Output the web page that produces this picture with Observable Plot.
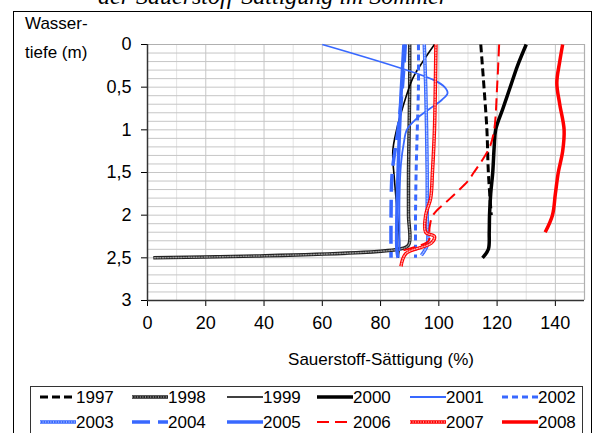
<!DOCTYPE html>
<html>
<head>
<meta charset="utf-8">
<script src="https://cdn.jsdelivr.net/npm/d3@7"></script>
<script src="https://cdn.jsdelivr.net/npm/@observablehq/plot@0.6"></script>
<style>
  body { margin:0; background:#fff; }
  #wrap { position:relative; width:606px; height:433px; overflow:hidden; background:#fff; font-family:"Liberation Sans", Arial, sans-serif; }
  #title { position:absolute; left:0; width:546px; top:-17px; text-align:center; font-family:"Liberation Serif", "Times New Roman", serif; font-style:italic; font-size:24px; white-space:nowrap; }
  #frame { position:absolute; left:13px; top:11px; width:579px; height:440px; border:1.5px solid #000; box-sizing:border-box; }
  #plot, #overlay { position:absolute; left:0; top:0; }
</style>
</head>
<body>
<div id="wrap">
  <div id="title">der Sauerstoff-Sättigung im Sommer</div>
  <div id="frame"></div>
  <div id="plot"></div>
  <svg id="overlay" width="606" height="433"></svg>
</div>
<script>
// ---- data (depth in m, saturation in %) ----
const years = ["1997","1998","1999","2000","2001","2002","2003","2004","2005","2006","2007","2008"];
const xTicks = [0,20,40,60,80,100,120,140];
const yTicks = [0,0.5,1,1.5,2,2.5,3];

const d1997 = [0,0.5,1,1.5,2];
const v1997 = [114.4,115.5,116.5,117,118];
const d1998 = [0,0.5,1,1.5,2,2.35,2.4,2.5];
const v1998 = [90,90,89.8,89.6,89.6,89.6,86,2];
const d1999 = [0,0.2,0.4,0.75,1.0,1.25,1.6,2.0,2.35,2.5];
const v1999 = [98.5,94.5,91,87.5,85.5,84.2,84.8,85.8,86.5,86];
const d2000 = [0,0.25,0.5,0.75,1.0,1.2,1.5,1.75,2.0,2.2,2.4,2.5];
const v2000 = [130,127,124.5,122,119.5,119,118.5,117.8,117.4,117.3,117,115];
const d2001 = [0,0.42,0.5,0.57,0.65,0.75,0.88,1.0,1.15,1.4,1.8,2.2,2.42];
const v2001 = [60,98.5,102,103,101,97,92,89,88,87,86.5,86.5,86.5];
const d2002 = [0,0.5,1,1.5,2,2.4,2.5];
const v2002 = [93,93,92.6,92.2,92,92,92];
const d2003 = [0,0.5,1,1.5,2,2.35,2.47];
const v2003 = [95,95.5,95.8,96,96,96,94];
const d2004 = [0,0.5,1,1.5,2,2.5];
const v2004 = [88.5,87.5,86,84,83.6,83.6];
const d2005 = [0,0.3,0.6,1,1.5,2,2.4,2.5];
const v2005 = [88,87.5,87,86.5,86,85.6,85.6,86];
const d2006 = [0,0.5,1.0,1.2,1.35,1.5,1.6,1.8,2.0,2.15,2.3,2.38,2.42];
const v2006 = [120.7,120,119,117.5,115,112,110,104,98,96.8,96.5,91,87];
const d2007 = [0,0.5,1.0,1.5,1.8,2.0,2.2,2.25,2.33,2.45,2.6];
const v2007 = [99,98.8,98.5,97.8,97.2,95.5,95.5,98.5,97.3,88.7,87];
const d2008 = [0,0.2,0.45,0.7,1.0,1.25,1.5,1.75,2.0,2.2];
const v2008 = [142.5,141.5,140.5,141.5,143,142.5,141,140,139,136.5];

const depths = [d1997,d1998,d1999,d2000,d2001,d2002,d2003,d2004,d2005,d2006,d2007,d2008];
const sats   = [v1997,v1998,v1999,v2000,v2001,v2002,v2003,v2004,v2005,v2006,v2007,v2008];

// ---- styles per series ----
const BLUE = "#3868FF", RED = "#FF0000", BLACK = "#000";
const styles = {
  "1997": {stroke:BLACK, w:3,   dash:"8,4"},
  "1998": {stroke:"#222", w:3.5, tex:"#9a9a9a"},
  "1999": {stroke:BLACK, w:1.6},
  "2000": {stroke:BLACK, w:3.5},
  "2001": {stroke:BLUE,  w:1.8},
  "2002": {stroke:BLUE,  w:3,   dash:"6,4"},
  "2003": {stroke:BLUE,  w:3.5, tex:"#a8bfff"},
  "2004": {stroke:BLUE,  w:3.5, dash:"18,8"},
  "2005": {stroke:BLUE,  w:3.5},
  "2006": {stroke:RED,   w:2,   dash:"12,6"},
  "2007": {stroke:RED,   w:3.5, tex:"#ffaaaa"},
  "2008": {stroke:RED,   w:3.5}
};

const rows = years.map((y,i) => depths[i].map((d,j) => ({year:y, depth:d, sat:sats[i][j]})));

const lineMarks = [];
years.forEach((y,i) => {
  const s = styles[y];
  lineMarks.push(Plot.line(rows[i], {x:"sat", y:"depth", curve:"catmull-rom", stroke:s.stroke, strokeWidth:s.w, strokeDasharray:s.dash, strokeLinecap:"butt"}));
  if (s.tex) lineMarks.push(Plot.line(rows[i], {x:"sat", y:"depth", curve:"catmull-rom", stroke:s.tex, strokeWidth:1.4, strokeDasharray:"1,1.6"}));
});

const minorX = d3.range(10,150,20);
const majorX = d3.range(20,150,20);
const gridY = d3.range(1,30).map(k => k/10);

const chart = Plot.plot({
  width:606, height:433,
  marginTop:44, marginLeft:147, marginRight:22, marginBottom:133,
  style:{fontFamily:'"Liberation Sans", Arial, sans-serif', fontSize:"18px", background:"transparent", color:"#000", overflow:"visible"},
  x:{domain:[0,150], ticks:xTicks, label:null, tickSize:6, tickPadding:10},
  y:{domain:[0,3], reverse:true, ticks:yTicks, tickFormat:d => String(d).replace(".", ","), label:null, tickSize:6, tickPadding:10},
  marks:[
    Plot.ruleX(minorX, {stroke:"#e3e3e3", strokeWidth:1}),
    Plot.ruleX(majorX, {stroke:"#c6c6c6", strokeWidth:1}),
    Plot.ruleY(gridY, {stroke:"#c6c6c6", strokeWidth:1}),
    Plot.ruleY([0], {stroke:"#b0b0b0", strokeWidth:1.2}),
    Plot.ruleX([150], {stroke:"#b0b0b0", strokeWidth:1.2}),
    ...lineMarks,
    Plot.ruleX([0], {stroke:"#333", strokeWidth:1.5}),
    Plot.ruleY([3], {stroke:"#333", strokeWidth:1.5})
  ]
});
document.getElementById("plot").appendChild(chart);

// ---- overlay: axis titles + legend ----
const svg = d3.select("#overlay");
const font = '"Liberation Sans", Arial, sans-serif';
svg.append("text").attr("x",25).attr("y",29).attr("font-family",font).attr("font-size",17).text("Wasser-");
svg.append("text").attr("x",25).attr("y",58).attr("font-family",font).attr("font-size",17).text("tiefe (m)");
svg.append("text").attr("x",381).attr("y",365).attr("text-anchor","middle").attr("font-family",font).attr("font-size",17).text("Sauerstoff-Sättigung (%)");

svg.append("rect").attr("x",30.5).attr("y",386.5).attr("width",552).attr("height",60).attr("fill","none").attr("stroke","#333").attr("stroke-width",1);

const colX = [40,132,227,317,410,502];
const rowY = [397,422];
years.forEach((y,i) => {
  const s = styles[y];
  const x0 = colX[i % 6], yy = rowY[Math.floor(i / 6)];
  const g = svg.append("g");
  g.append("line").attr("x1",x0).attr("x2",x0+36).attr("y1",yy).attr("y2",yy)
    .attr("stroke",s.stroke).attr("stroke-width",s.w).attr("stroke-dasharray",s.dash || null);
  if (s.tex) g.append("line").attr("x1",x0).attr("x2",x0+36).attr("y1",yy).attr("y2",yy)
    .attr("stroke",s.tex).attr("stroke-width",1.4).attr("stroke-dasharray","1,1.6");
  g.append("text").attr("x",x0+36).attr("y",yy+6).attr("font-family",font).attr("font-size",17).text(y);
});
</script>
</body>
</html>
